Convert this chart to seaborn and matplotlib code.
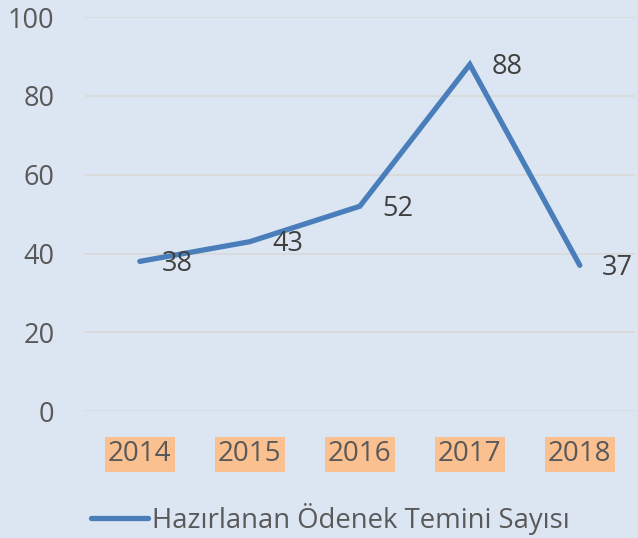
import matplotlib
matplotlib.use("Agg")
import matplotlib.pyplot as plt
import seaborn as sns
import pandas as pd

years = ["2014", "2015", "2016", "2017", "2018"]
values = [38, 43, 52, 88, 37]
series_name = "Hazırlanan Ödenek Temini Sayısı"
y_ticks = [0, 20, 40, 60, 80, 100]

sns.set_style("white")
plt.rcParams['font.family'] = ['Open Sans', 'DejaVu Sans']

bg = "#dce6f2"
fig = plt.figure(figsize=(6.38, 5.38), dpi=100, facecolor=bg)
ax = fig.add_axes([0.133, 0.236, 0.862, 0.732])
ax.set_facecolor(bg)

df = pd.DataFrame({"year": years, "value": values, "series": series_name})
df["pos"] = range(len(years))
sns.lineplot(data=df, x="pos", y="value", hue="series", palette=["#4a7ebb"],
             linewidth=3.8, ax=ax, legend=True, solid_capstyle="round",
             solid_joinstyle="miter")

for x, v in zip(df["pos"], values):
    ax.annotate(str(v), (x, v), xytext=(16, -2), textcoords="offset points",
                ha="left", va="center", fontsize=19.5, color="#404040")

ax.set_xlim(-0.5, len(years) - 0.5)
ax.set_ylim(0, 100)
ax.set_yticks(y_ticks)
ax.set_yticklabels([str(t) for t in y_ticks], fontsize=19.5, color="#595959")
ax.set_xticks(range(len(years)))
ax.set_xticklabels(years, fontsize=20, color="#595959")
for lbl in ax.get_xticklabels():
    lbl.set_bbox(dict(facecolor="#fac090", edgecolor="none", pad=2.5))
ax.tick_params(axis="y", length=0, pad=22)
ax.tick_params(axis="x", length=0, pad=21)
ax.yaxis.grid(True, color="#d9d9d9", linewidth=1.3)
ax.set_axisbelow(True)
for s in ax.spines.values():
    s.set_visible(False)
ax.set_xlabel("")
ax.set_ylabel("")

leg = ax.legend(loc="center", bbox_to_anchor=(0.447, -0.273), frameon=False,
                fontsize=19.8, handlelength=2.05, handletextpad=0.18,
                labelcolor="#595959")
for h in leg.get_lines():
    h.set_linewidth(3.8)

fig.savefig("out.png", dpi=100, facecolor=bg)
